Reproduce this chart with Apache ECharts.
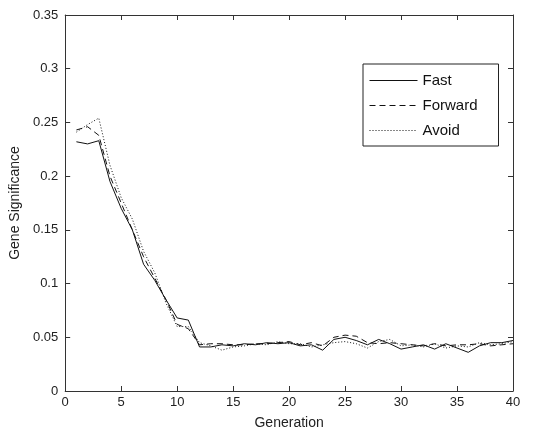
<!DOCTYPE html>
<html>
<head>
<meta charset="utf-8">
<script src="https://cdn.jsdelivr.net/npm/echarts@6/dist/echarts.min.js"></script>
<style>html,body{margin:0;padding:0;background:#fff}#c{width:553px;height:435px}</style>
</head>
<body>
<div id="c"></div>
<script>
const generations = Array.from({length: 40}, (_, i) => i + 1);
const fast = [0.232,0.230,0.233,0.195,0.170,0.150,0.118,0.103,0.085,0.068,0.066,0.041,0.041,0.043,0.042,0.044,0.043,0.045,0.044,0.045,0.042,0.043,0.038,0.048,0.050,0.047,0.043,0.048,0.044,0.039,0.041,0.043,0.039,0.044,0.040,0.036,0.042,0.045,0.045,0.047];
const forward = [0.243,0.246,0.238,0.200,0.175,0.150,0.125,0.105,0.085,0.062,0.058,0.043,0.044,0.044,0.043,0.043,0.044,0.044,0.045,0.046,0.043,0.045,0.042,0.050,0.052,0.051,0.045,0.044,0.045,0.044,0.043,0.042,0.044,0.042,0.043,0.043,0.044,0.042,0.043,0.044];
const avoid = [0.241,0.248,0.254,0.210,0.180,0.160,0.130,0.110,0.082,0.060,0.060,0.045,0.042,0.038,0.041,0.042,0.044,0.043,0.046,0.044,0.044,0.041,0.043,0.045,0.046,0.044,0.040,0.046,0.048,0.042,0.043,0.041,0.044,0.040,0.042,0.041,0.045,0.043,0.044,0.046];
const seriesNames = ['Fast', 'Forward', 'Avoid'];

const font = 'Liberation Sans, Arial, sans-serif';
const axisCol = '#333';
const chart = echarts.init(document.getElementById('c'));
const baseX = {
  type: 'value', min: 0, max: 40, interval: 5,
  axisLine: {show: true, onZero: false, lineStyle: {color: axisCol, width: 1}},
  axisTick: {show: true, inside: true, length: 5, lineStyle: {color: axisCol}},
  splitLine: {show: false}
};
const baseY = {
  type: 'value', min: 0, max: 0.35, interval: 0.05,
  axisLine: {show: true, onZero: false, lineStyle: {color: axisCol, width: 1}},
  axisTick: {show: true, inside: true, length: 5, lineStyle: {color: axisCol}},
  splitLine: {show: false}
};
const mk = (name, data, type) => ({
  name, type: 'line', xAxisIndex: 0, yAxisIndex: 0,
  data: data.map((v, i) => [generations[i], v]),
  showSymbol: false, symbol: 'none',
  color: '#111',
  lineStyle: {color: '#111', width: 1, type}
});
chart.setOption({
  animation: false,
  backgroundColor: '#fff',
  grid: {left: 63, right: 40, top: 15, bottom: 42},
  legend: {
    show: true,
    orient: 'vertical', left: 363, top: 64,
    data: seriesNames,
    backgroundColor: '#fff', borderColor: '#222', borderWidth: 1,
    padding: [9, 21, 8, 6], itemWidth: 48, itemHeight: 14, itemGap: 10,
    itemStyle: {opacity: 0},
    lineStyle: {width: 1},
    textStyle: {fontFamily: font, fontSize: 15, color: '#111'}
  },
  xAxis: [
    Object.assign({}, baseX, {position: 'bottom',
      axisLabel: {fontFamily: font, fontSize: 13, color: '#222', margin: 5},
      name: 'Generation', nameLocation: 'middle', nameGap: 25,
      nameTextStyle: {fontFamily: font, fontSize: 14, color: '#222'}}),
    Object.assign({}, baseX, {position: 'top', axisLabel: {show: false}})
  ],
  yAxis: [
    Object.assign({}, baseY, {position: 'left',
      axisLabel: {fontFamily: font, fontSize: 13, color: '#222', margin: 7},
      name: 'Gene Significance', nameLocation: 'middle', nameGap: 42,
      nameTextStyle: {fontFamily: font, fontSize: 14, color: '#222'}}),
    Object.assign({}, baseY, {position: 'right', axisLabel: {show: false}})
  ],
  series: [mk('Fast', fast, 'solid'), mk('Forward', forward, [6, 4]), mk('Avoid', avoid, [1, 2])]
});
</script>
</body>
</html>
